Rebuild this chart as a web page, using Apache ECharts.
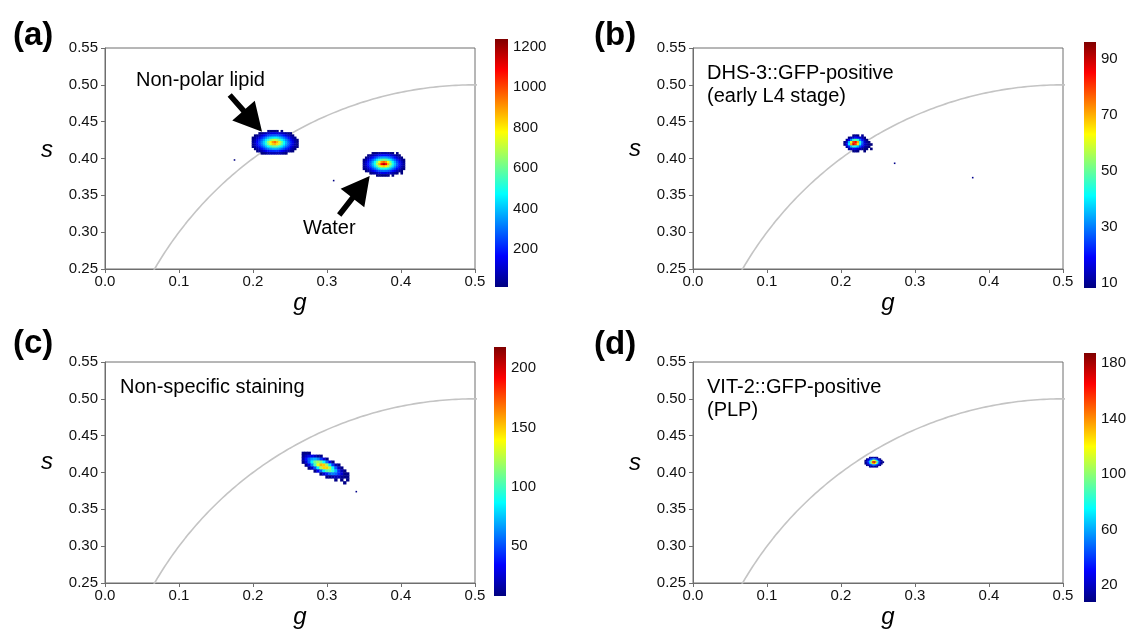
<!DOCTYPE html>
<html><head><meta charset="utf-8">
<script src="https://cdn.jsdelivr.net/npm/echarts@6/dist/echarts.min.js"></script>
<style>html,body{margin:0;padding:0;background:#fff}#c{width:1127px;height:633px}</style>
</head><body><div id="c"></div>
<script>
// ================= DATA =================
const gAxisRange = [0, 0.5];
const sAxisRange = [0.25, 0.55];
const gTickStep = 0.1;
const sTickStep = 0.05;
// universal circle geometry (centre on g axis, radius)
const ucCenter = 0.5, ucRadius = 0.5;

// ---- panel (a) ----  2D histogram counts, rows from high s to low s
const aLipidG0 = 0.200, aLipidS0 = 0.437, aLipidBin = 0.003;
const aLipidCounts = [
  [0,0,0,0,0,0,0,15,15,20,20,15,0,15,0,0,0,0,0,0,0],
  [0,0,0,15,25,50,75,100,120,130,130,125,110,90,65,40,20,15,0,0,0],
  [0,15,25,65,110,155,200,235,260,280,280,275,250,220,180,135,90,50,15,0,0],
  [15,40,85,140,205,270,325,380,425,450,460,445,405,360,305,245,180,120,65,25,0],
  [25,70,135,210,285,365,445,535,630,695,710,670,595,495,410,330,255,180,110,55,15],
  [40,90,165,245,325,415,520,660,790,900,950,860,740,605,475,380,290,215,135,70,25],
  [35,85,155,235,315,400,500,625,745,835,855,805,700,575,460,365,285,205,130,65,20],
  [20,60,120,185,255,325,400,470,540,590,600,575,510,445,370,300,230,155,90,40,15],
  [0,20,60,110,170,225,275,320,355,380,385,370,345,305,255,205,145,90,45,15,0],
  [0,0,15,40,70,110,145,180,205,215,220,215,195,165,130,95,60,25,15,0,0],
  [0,0,0,0,15,20,40,55,70,75,75,70,65,50,30,15,0,0,0,0,0]
];
const aWaterG0 = 0.350, aWaterS0 = 0.407, aWaterBin = 0.003;
const aWaterCounts = [
  [0,0,0,0,15,15,25,40,55,60,55,40,25,15,0,15,0,0,0],
  [0,0,15,30,60,105,135,160,180,185,180,160,135,105,60,30,15,0,0],
  [0,15,60,115,170,230,280,325,355,365,355,325,280,230,170,115,60,15,0],
  [15,60,125,200,280,360,445,525,585,615,585,525,445,360,280,200,125,60,15],
  [35,100,175,260,360,475,615,765,900,965,900,765,615,475,360,260,175,100,35],
  [45,110,190,280,385,510,675,865,1080,1180,1080,865,675,510,385,280,190,110,45],
  [30,85,160,245,335,440,555,685,795,835,795,685,555,440,335,245,160,85,30],
  [15,50,105,170,245,315,385,450,500,515,500,450,385,315,245,170,105,50,15],
  [0,15,40,85,135,185,230,265,290,300,290,265,230,185,135,85,40,15,0],
  [0,0,0,15,40,60,90,115,130,135,130,115,90,60,40,15,0,15,0],
  [0,0,0,0,0,0,15,15,15,20,15,15,0,15,0,0,0,0,0]
];
const aStray = [[0.175, 0.398, 15], [0.309, 0.370, 15]];
const aColorRange = [12, 1237];
const aColorLabels = [200, 400, 600, 800, 1000, 1200];
const aColorTicks = [200, 400, 600, 800, 1000, 1200];
const aAnnotLabels = ['Non-polar lipid', 'Water'];
// arrows: [tail g, tail s, tip g, tip s]
const aArrows = [[0.1685, 0.4862, 0.2122, 0.4364], [0.3165, 0.3233, 0.3577, 0.3763]];

// ---- panel (b) ----
const bG0 = 0.205, bS0 = 0.431, bBin = 0.003;
const bCounts = [
  [0,0,0,0,8,10,8,0,10,0,0,0,0],
  [0,0,8,12,15,20,18,15,12,8,0,0,0],
  [0,10,18,30,45,50,45,30,20,12,8,0,0],
  [8,15,35,60,80,85,70,45,28,15,10,8,0],
  [8,18,40,70,88,80,65,40,25,15,12,8,8],
  [0,12,22,35,45,42,35,25,18,12,10,8,0],
  [0,0,10,14,18,18,15,12,10,8,8,0,8],
  [0,0,0,0,8,10,8,0,0,8,0,0,0]
];
const bStray = [[0.2725, 0.3935, 9], [0.378, 0.374, 9]];
const bColorRange = [8, 96];
const bColorLabels = [10, 30, 50, 70, 90];
const bColorTicks = [10, 20, 30, 40, 50, 60, 70, 80, 90];
const bAnnotLabels = ['DHS-3::GFP-positive', '(early L4 stage)'];

// ---- panel (c) ----
const cG0 = 0.268, cS0 = 0.426, cBin = 0.004;
const cCounts = [
  [10,10,10,0,0,0,0,0,0,0,0,0,0,0,0,0,0],
  [12,23,30,30,23,13,10,0,0,0,0,0,0,0,0,0,0],
  [17,36,54,68,71,63,46,27,10,0,0,0,0,0,0,0,0],
  [10,28,55,85,110,120,111,87,57,30,10,0,0,0,0,0,0],
  [0,10,31,62,100,134,155,150,120,83,46,19,10,0,0,0,0],
  [0,0,10,23,51,86,122,147,148,124,89,53,24,10,0,0,0],
  [0,0,0,0,10,31,55,83,104,108,96,72,44,20,10,0,0],
  [0,0,0,0,0,0,10,24,40,54,60,55,42,26,10,10,0],
  [0,0,0,0,0,0,0,0,10,10,17,21,20,14,10,10,0],
  [0,0,0,0,0,0,0,0,0,0,0,10,0,10,0,10,0],
  [0,0,0,0,0,0,0,0,0,0,0,0,0,0,10,0,0]
];
const cStray = [[0.3396, 0.374, 10]];
const cColorRange = [8, 218];
const cColorLabels = [50, 100, 150, 200];
const cColorTicks = [25, 50, 75, 100, 125, 150, 175, 200];
const cAnnotLabels = ['Non-specific staining'];

// ---- panel (d) ----
const dG0 = 0.233, dS0 = 0.420, dBin = 0.002;
const dCounts = [
  [0,0,0,10,12,15,15,12,10,0,0,0,0],
  [0,10,15,25,40,50,55,45,30,15,10,0,0],
  [10,15,30,50,80,110,120,100,70,40,20,10,0],
  [10,20,40,70,110,160,180,150,100,55,25,12,10],
  [10,15,30,55,90,130,140,120,80,45,20,10,0],
  [0,10,15,25,40,55,60,50,35,20,10,0,0],
  [0,0,0,10,12,15,15,12,10,0,0,0,0]
];
const dColorRange = [8, 187];
const dColorLabels = [20, 60, 100, 140, 180];
const dColorTicks = [20, 40, 60, 80, 100, 120, 140, 160, 180];
const dAnnotLabels = ['VIT-2::GFP-positive', '(PLP)'];

const panelLetters = ['(a)', '(b)', '(c)', '(d)'];
const axisTitles = ['g', 's'];

// ================= STYLE / LAYOUT =================
const FONT = "'Liberation Sans', Arial, Helvetica, sans-serif";
const JET = ['#00007f','#0000ff','#007fff','#00ffff','#7fff7f','#ffff00','#ff7f00','#ff0000','#7f0000'];
const TXT = '#111';

const layout = [
  {grid:{left:105,top:48,width:370,height:221}, cbar:{left:495,top:39,width:13,height:248},
   letter:[13,36], sT:[47,150], gT:[300,303]},
  {grid:{left:693,top:48,width:370,height:221}, cbar:{left:1084,top:42,width:12,height:246},
   letter:[594,36], sT:[635,149], gT:[888,303]},
  {grid:{left:105,top:362,width:370,height:221}, cbar:{left:494,top:347,width:12,height:249},
   letter:[13,344], sT:[47,462], gT:[300,617]},
  {grid:{left:693,top:362,width:370,height:221}, cbar:{left:1084,top:353,width:12,height:249},
   letter:[594,345], sT:[635,463], gT:[888,617]}
];

function cells(g0, s0, bin, counts) {
  const out = [];
  counts.forEach((row, j) => row.forEach((v, i) => {
    if (v > 0) out.push([+(g0 + i * bin).toFixed(4), +(s0 - j * bin).toFixed(4), v]);
  }));
  return out;
}

function cellSeries(k, data, bin) {
  return {
    type: 'custom', coordinateSystem: 'cartesian2d', xAxisIndex: k, yAxisIndex: k,
    data: data, dimensions: ['g', 's', 'count'], z: 3,
    renderItem: function (params, api) {
      const c = api.coord([api.value(0), api.value(1)]);
      const sz = api.size([bin, bin]);
      return {type: 'rect',
        shape: {x: c[0] - sz[0] / 2 - 0.2, y: c[1] - sz[1] / 2 - 0.2, width: sz[0] + 0.4, height: sz[1] + 0.4},
        style: {fill: api.visual('color')}};
    }
  };
}

// universal circle points (reference geometry)
const circlePts = [];
for (let t = 0; t <= 180; t += 0.5) {
  const a = t * Math.PI / 180;
  circlePts.push([ucCenter - ucRadius * Math.cos(a), ucRadius * Math.sin(a)]);
}

const panels = [
  {blobs: [[cells(aLipidG0, aLipidS0, aLipidBin, aLipidCounts), aLipidBin],
           [cells(aWaterG0, aWaterS0, aWaterBin, aWaterCounts), aWaterBin],
           [aStray, 0.0016]],
   range: aColorRange, labels: aColorLabels, ticks: aColorTicks},
  {blobs: [[cells(bG0, bS0, bBin, bCounts), bBin], [bStray, 0.0016]],
   range: bColorRange, labels: bColorLabels, ticks: bColorTicks},
  {blobs: [[cells(cG0, cS0, cBin, cCounts), cBin], [cStray, 0.0016]],
   range: cColorRange, labels: cColorLabels, ticks: cColorTicks},
  {blobs: [[cells(dG0, dS0, dBin, dCounts), dBin]],
   range: dColorRange, labels: dColorLabels, ticks: dColorTicks}
];

const grids = [], xAxes = [], yAxes = [], series = [], visualMaps = [];

panels.forEach((p, k) => {
  const L = layout[k];
  grids.push(Object.assign({show: true, borderColor: '#6e6e6e', borderWidth: 1, outerBoundsMode: 'none', containLabel: false}, L.grid));
  xAxes.push({type: 'value', gridIndex: k, min: gAxisRange[0], max: gAxisRange[1], interval: gTickStep,
    axisLine: {show: true, onZero: false, lineStyle: {color: '#6e6e6e', width: 1}},
    axisTick: {show: true, inside: false, length: 4, lineStyle: {color: '#6e6e6e'}},
    axisLabel: {margin: 5, color: TXT, fontSize: 15, fontFamily: FONT, formatter: v => v.toFixed(1)},
    splitLine: {show: false}});
  yAxes.push({type: 'value', gridIndex: k, min: sAxisRange[0], max: sAxisRange[1], interval: sTickStep,
    axisLine: {show: true, onZero: false, lineStyle: {color: '#6e6e6e', width: 1}},
    axisTick: {show: true, inside: false, length: 4, lineStyle: {color: '#6e6e6e'}},
    axisLabel: {margin: 7, color: TXT, fontSize: 15, fontFamily: FONT, formatter: v => v.toFixed(2)},
    splitLine: {show: false}});
  series.push({type: 'line', xAxisIndex: k, yAxisIndex: k, data: circlePts, showSymbol: false,
    symbol: 'none', clip: true, smooth: false, silent: true, z: 2,
    lineStyle: {color: '#c4c4c4', width: 1.6}});
  const idx = [];
  p.blobs.forEach(b => { idx.push(series.length); series.push(cellSeries(k, b[0], b[1])); });
  visualMaps.push({type: 'continuous', show: false, min: p.range[0], max: p.range[1],
    dimension: 2, seriesIndex: idx, inRange: {color: JET}, outOfRange: {color: JET[0]}});
});

// colour bars
panels.forEach((p, k) => {
  const L = layout[k];
  const gi = 4 + k;
  grids.push(Object.assign({show: false, outerBoundsMode: 'none', containLabel: false}, L.cbar));
  xAxes.push({type: 'value', gridIndex: gi, min: 0, max: 1, show: false});
  yAxes.push({type: 'value', gridIndex: gi, min: p.range[0], max: p.range[1], position: 'right',
    axisLine: {show: false},
    axisTick: {show: true, inside: false, length: 3, customValues: p.ticks, lineStyle: {color: '#333'}},
    axisLabel: {show: true, margin: 5, color: TXT, fontSize: 15, fontFamily: FONT,
      customValues: p.labels, formatter: v => String(Math.round(v))},
    splitLine: {show: false}});
  series.push({type: 'custom', coordinateSystem: 'cartesian2d', xAxisIndex: gi, yAxisIndex: gi,
    data: [[0, p.range[0], 1, p.range[1]]], silent: true,
    renderItem: function (params, api) {
      const lo = api.coord([api.value(0), api.value(1)]);
      const hi = api.coord([api.value(2), api.value(3)]);
      const stops = JET.slice().reverse().map((c, i) => ({offset: i / (JET.length - 1), color: c}));
      return {type: 'rect', shape: {x: lo[0], y: hi[1], width: hi[0] - lo[0], height: lo[1] - hi[1]},
        style: {fill: {type: 'linear', x: 0, y: 0, x2: 0, y2: 1, colorStops: stops}}};
    }});
});

// arrows in panel (a)
series.push({type: 'custom', coordinateSystem: 'cartesian2d', xAxisIndex: 0, yAxisIndex: 0,
  data: aArrows, silent: true, z: 5,
  renderItem: function (params, api) {
    const tail = api.coord([api.value(0), api.value(1)]);
    const tip = api.coord([api.value(2), api.value(3)]);
    const dx = tip[0] - tail[0], dy = tip[1] - tail[1];
    const len = Math.hypot(dx, dy), ux = dx / len, uy = dy / len, nx = -uy, ny = ux;
    const headL = 28, headW = 30, shaftW = 5.5;
    const bx = tip[0] - ux * headL, by = tip[1] - uy * headL;
    const pts = [
      [tail[0] + nx * shaftW / 2, tail[1] + ny * shaftW / 2],
      [bx + nx * shaftW / 2, by + ny * shaftW / 2],
      [bx + nx * headW / 2, by + ny * headW / 2],
      [tip[0], tip[1]],
      [bx - nx * headW / 2, by - ny * headW / 2],
      [bx - nx * shaftW / 2, by - ny * shaftW / 2],
      [tail[0] - nx * shaftW / 2, tail[1] - ny * shaftW / 2]];
    return {type: 'polygon', shape: {points: pts}, style: {fill: '#000'}};
  }});

// text graphics
const graphics = [];
function txt(x, y, text, font, align) {
  graphics.push({type: 'text', x: x, y: y, silent: true,
    style: {text: text, font: font, fill: '#000', textAlign: align || 'left', textVerticalAlign: 'middle'}});
}
layout.forEach((L, k) => {
  txt(L.letter[0], L.letter[1], panelLetters[k], 'bold 33px ' + FONT, 'left');
  txt(L.sT[0], L.sT[1], axisTitles[1], 'italic 24px ' + FONT, 'center');
  txt(L.gT[0], L.gT[1], axisTitles[0], 'italic 24px ' + FONT, 'center');
});
const annFont = '20px ' + FONT;
txt(136, 80, aAnnotLabels[0], annFont);
txt(303, 228, aAnnotLabels[1], annFont);
txt(707, 73, bAnnotLabels[0], annFont);
txt(707, 96, bAnnotLabels[1], annFont);
txt(120, 387, cAnnotLabels[0], annFont);
txt(707, 387, dAnnotLabels[0], annFont);
txt(707, 410, dAnnotLabels[1], annFont);

const chart = echarts.init(document.getElementById('c'), null, {renderer: 'canvas'});
chart.setOption({
  animation: false,
  backgroundColor: '#fff',
  textStyle: {fontFamily: FONT},
  grid: grids, xAxis: xAxes, yAxis: yAxes,
  visualMap: visualMaps,
  series: series,
  graphic: graphics
});
</script></body></html>
